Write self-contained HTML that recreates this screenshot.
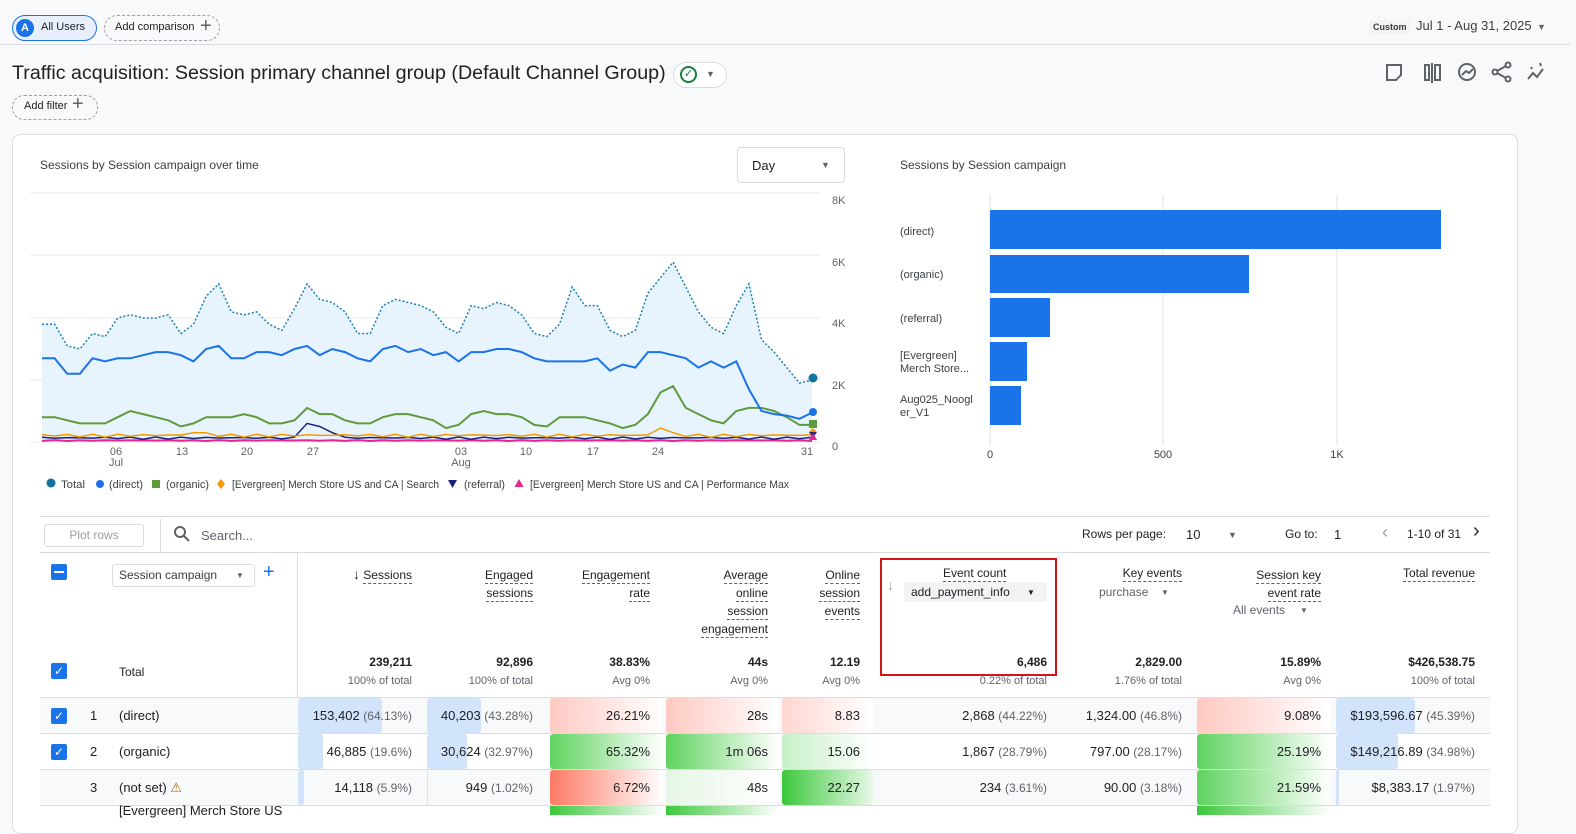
<!DOCTYPE html>
<html><head><meta charset="utf-8"><style>
*{box-sizing:border-box;margin:0;padding:0}
body{width:1576px;height:815px;overflow:hidden;background:#f8f9fa;font-family:"Liberation Sans",Arial,sans-serif;color:#202124;position:relative;font-size:12px}
.a{position:absolute;white-space:nowrap}
.r{text-align:right}
.dl{border-bottom:1px dashed #5f6368;display:inline-block;line-height:15px}
.sub{color:#5f6368;font-size:11px}
.b{font-weight:bold}
</style></head><body>
<div class="a" style="left:12px;top:15px;width:85px;height:26px;border:1px solid #1a73e8;border-radius:13px;background:#e8f0fe"></div>
<div class="a" style="left:16px;top:19px;width:18px;height:18px;border-radius:50%;background:#1a73e8;color:#fff;font-size:11px;text-align:center;line-height:18px;font-weight:bold">A</div>
<div class="a" style="left:41px;top:21px;font-size:11px">All Users</div>
<div class="a" style="left:104px;top:15px;width:116px;height:26px;border:1px dashed #9aa0a6;border-radius:13px"></div>
<div class="a" style="left:115px;top:21px;font-size:11px">Add comparison</div>
<div class="a" style="left:200px;top:15px;font-size:20px;color:#5f6368;font-weight:300">+</div>
<div class="a" style="left:0;top:44px;width:1570px;height:1px;background:#dadce0"></div>
<div class="a" style="left:1370px;top:20px;font-size:9px;background:#f1f3f4;padding:2px 3px;font-weight:bold;color:#3c4043">Custom</div>
<div class="a" style="left:1416px;top:18px;font-size:13px;color:#3c4043">Jul 1 - Aug 31, 2025</div>
<div class="a" style="left:1537px;top:22px;font-size:9px;color:#5f6368">▼</div>
<div class="a" style="left:12px;top:63px;font-size:19px;transform:scaleX(1.035);transform-origin:left">Traffic acquisition: Session primary channel group (Default Channel Group)</div>
<div class="a" style="left:673px;top:62px;width:54px;height:26px;border:1px solid #dadce0;border-radius:13px;background:#fff"></div>
<div class="a" style="left:680px;top:66px;width:17px;height:17px;border:2px solid #188038;border-radius:50%;color:#188038;font-size:11px;text-align:center;line-height:13px">✓</div>
<div class="a" style="left:706px;top:69px;font-size:9px;color:#5f6368">▼</div>
<div class="a" style="left:12px;top:95px;width:86px;height:25px;border:1px dashed #9aa0a6;border-radius:12px"></div>
<div class="a" style="left:24px;top:100px;font-size:11px">Add filter</div>
<div class="a" style="left:72px;top:93px;font-size:20px;color:#5f6368">+</div>
<svg class="a" style="left:1380px;top:58px" width="170" height="30" fill="none" stroke="#5f6368" stroke-width="2">
<path d="M7 7h14v10l-5 5H7z"/><rect x="45" y="7" width="4" height="15"/><path d="M52 5v20"/><rect x="55" y="7" width="5" height="15"/>
<circle cx="87" cy="14" r="8"/><path d="M82 17l4-4 3 2 4-4"/><circle cx="115" cy="14" r="2.5"/><circle cx="128" cy="7" r="2.5"/><circle cx="128" cy="21" r="2.5"/><path d="M117 13l9-5M117 15l9 5"/>
<path d="M148 21l5-6 4 4 6-8M160 5l1 3M151 9l1 2"/></svg>
<div class="a" style="left:12px;top:134px;width:1506px;height:700px;background:#fff;border:1px solid #dadce0;border-radius:8px"></div>
<div class="a" style="left:40px;top:158px;font-size:12px;color:#3c4043">Sessions by Session campaign over time</div>
<div class="a" style="left:737px;top:147px;width:108px;height:36px;border:1px solid #dadce0;border-radius:4px"></div>
<div class="a" style="left:752px;top:158px;font-size:13px">Day</div>
<div class="a" style="left:821px;top:160px;font-size:9px;color:#5f6368">▼</div>
<div class="a" style="left:900px;top:158px;font-size:12px;color:#3c4043">Sessions by Session campaign</div>
<svg id="ch" class="a" style="left:0;top:0" width="880" height="500"></svg>
<svg class="a" style="left:880px;top:180px" width="640" height="290">
<g stroke="#e0e0e0"><path d="M110 15V265M283 15V265M457 15V265"/></g>
<g fill="#1a73e8"><rect x="110" y="30" width="451" height="39"/><rect x="110" y="75" width="259" height="38"/><rect x="110" y="118" width="60" height="39"/><rect x="110" y="162" width="37" height="39"/><rect x="110" y="206" width="31" height="39"/></g>
<g font-size="11" fill="#3c4043" font-family="Liberation Sans"><text x="110" y="278" text-anchor="middle">0</text><text x="283" y="278" text-anchor="middle">500</text><text x="457" y="278" text-anchor="middle">1K</text>
<text x="20" y="55">(direct)</text><text x="20" y="98">(organic)</text><text x="20" y="142">(referral)</text><text x="20" y="179">[Evergreen]</text><text x="20" y="192">Merch Store...</text><text x="20" y="223">Aug025_Noogl</text><text x="20" y="236">er_V1</text></g></svg>
<div class="a" style="left:40px;top:516px;width:1450px;height:1px;background:#dadce0"></div>
<div class="a" style="left:44px;top:524px;width:100px;height:23px;border:1px solid #dadce0;border-radius:3px;color:#9aa0a6;text-align:center;line-height:21px">Plot rows</div>
<div class="a" style="left:160px;top:519px;width:1px;height:33px;background:#dadce0"></div>
<svg class="a" style="left:173px;top:525px" width="18" height="18" fill="none" stroke="#5f6368" stroke-width="2"><circle cx="7" cy="7" r="5"/><path d="M11 11l5 5"/></svg>
<div class="a" style="left:201px;top:528px;color:#5f6368;font-size:13px">Search...</div>
<div class="a" style="left:1082px;top:527px">Rows per page:</div>
<div class="a" style="left:1186px;top:527px;font-size:13px">10</div>
<div class="a" style="left:1228px;top:530px;font-size:9px;color:#5f6368">▼</div>
<div class="a" style="left:1285px;top:527px">Go to:</div>
<div class="a" style="left:1334px;top:527px;font-size:13px">1</div>
<div class="a" style="left:1382px;top:522px;font-size:18px;color:#9aa0a6">‹</div>
<div class="a" style="left:1407px;top:527px">1-10 of 31</div>
<div class="a" style="left:1473px;top:520px;font-size:20px">›</div>
<div class="a" style="left:40px;top:552px;width:1450px;height:1px;background:#dadce0"></div>
<div class="a" style="left:297px;top:552px;width:1px;height:263px;background:#dadce0"></div>
<div class="a" style="left:51px;top:564px;width:16px;height:16px;background:#1a73e8;border-radius:2px"><div style="margin:7px 3px;height:2px;background:#fff"></div></div>
<div class="a" style="left:112px;top:564px;width:143px;height:23px;border:1px solid #dadce0;border-radius:3px"></div>
<div class="a" style="left:119px;top:568px;color:#3c4043;font-size:12px">Session campaign</div>
<div class="a" style="left:236px;top:571px;font-size:8px;color:#5f6368">▼</div>
<div class="a" style="left:263px;top:561px;font-size:20px;color:#1a73e8">+</div>
<div class="a r" style="right:1164px;top:566px"><span style="font-size:14px">↓</span> <span class="dl">Sessions</span></div>
<div class="a r" style="right:1043px;top:566px;line-height:18px"><span class="dl">Engaged</span><br><span class="dl">sessions</span></div>
<div class="a r" style="right:926px;top:566px;line-height:18px"><span class="dl">Engagement</span><br><span class="dl">rate</span></div>
<div class="a r" style="right:808px;top:566px;line-height:18px"><span class="dl">Average</span><br><span class="dl">online</span><br><span class="dl">session</span><br><span class="dl">engagement</span></div>
<div class="a r" style="right:716px;top:566px;line-height:18px"><span class="dl">Online</span><br><span class="dl">session</span><br><span class="dl">events</span></div>
<div class="a" style="left:887px;top:577px;color:#9aa0a6;font-size:14px">↓</div>
<div class="a" style="left:943px;top:566px"><span class="dl">Event count</span></div>
<div class="a" style="left:904px;top:582px;width:143px;height:20px;background:#f1f3f4;border-radius:3px"></div>
<div class="a" style="left:911px;top:585px;font-size:12px">add_payment_info</div>
<div class="a" style="left:1027px;top:588px;font-size:8px">▼</div>
<div class="a" style="left:880px;top:558px;width:177px;height:118px;border:2px solid #d0161c"></div>
<div class="a r" style="right:394px;top:566px"><span class="dl">Key events</span></div>
<div class="a" style="left:1099px;top:585px;color:#5f6368">purchase</div>
<div class="a" style="left:1161px;top:588px;font-size:8px;color:#5f6368">▼</div>
<div class="a r" style="right:255px;top:566px;line-height:18px"><span class="dl">Session key</span><br><span class="dl">event rate</span></div>
<div class="a" style="left:1233px;top:603px;color:#5f6368">All events</div>
<div class="a" style="left:1300px;top:606px;font-size:8px;color:#5f6368">▼</div>
<div class="a r" style="right:101px;top:566px"><span class="dl">Total revenue</span></div>
<div class="a" style="left:51px;top:663px;width:16px;height:16px;background:#1a73e8;border-radius:2px;color:#fff;font-size:12px;text-align:center;line-height:16px">✓</div>
<div class="a" style="left:119px;top:665px">Total</div>
<div id="tot"></div>
<div class="a" style="left:40px;top:697px;width:1450px;height:1px;background:#dadce0"></div>
<div id="rows"></div>
<script>
var cols=[1164,1043,926,808,716,529,394,255,101];
var t1=["239,211","92,896","38.83%","44s","12.19","6,486","2,829.00","15.89%","$426,538.75"];
var t2=["100% of total","100% of total","Avg 0%","Avg 0%","Avg 0%","0.22% of total","1.76% of total","Avg 0%","100% of total"];
var h="";
for(var i=0;i<9;i++){h+='<div class="a r b" style="right:'+cols[i]+'px;top:655px">'+t1[i]+'</div><div class="a r sub" style="right:'+cols[i]+'px;top:675px">'+t2[i]+'</div>';}
document.getElementById('tot').outerHTML=h;
var S=function(t){return " <span class=sub style='font-size:12px'>"+t+"</span>"};
var rows=[
{y:698,bg:"#f8f9fa",cb:1,n:"1",name:"(direct)",v:["153,402"+S("(64.13%)"),"40,203"+S("(43.28%)"),"26.21%","28s","8.83","2,868"+S("(44.22%)"),"1,324.00"+S("(46.8%)"),"9.08%","$193,596.67"+S("(45.39%)")],
 bars:[[298,84],[427,54],null,null,null,null,null,null,[1336,79]],heat:[null,null,"r","r","r2",null,null,"r",null]},
{y:734,bg:"#fff",cb:1,n:"2",name:"(organic)",v:["46,885"+S("(19.6%)"),"30,624"+S("(32.97%)"),"65.32%","1m 06s","15.06","1,867"+S("(28.79%)"),"797.00"+S("(28.17%)"),"25.19%","$149,216.89"+S("(34.98%)")],
 bars:[[298,25],[427,40],null,null,null,null,null,null,[1336,62]],heat:[null,null,"g","g","g2",null,null,"g",null]},
{y:770,bg:"#f8f9fa",cb:0,n:"3",name:"(not set) <span style='color:#b06000'>⚠</span>",v:["14,118"+S("(5.9%)"),"949"+S("(1.02%)"),"6.72%","48s","22.27","234"+S("(3.61%)"),"90.00"+S("(3.18%)"),"21.59%","$8,383.17"+S("(1.97%)")],
 bars:[[298,6],[427,1],null,null,null,null,null,null,[1336,3]],heat:[null,null,"R","w","G",null,null,"g",null]}
];
var cl=[[298,425],[426,540],[550,663],[666,778],[782,873],[876,1058],[1058,1196],[1197,1331],[1335,1490]];
var H={r:"linear-gradient(90deg,#ffc9c2,#fff)",r2:"linear-gradient(90deg,#ffd6d0,#fff)",g:"linear-gradient(90deg,#5fd35f,#fff)",g2:"linear-gradient(90deg,#c8f0c8,#fff)",R:"linear-gradient(90deg,#ff7a65,#fff)",G:"linear-gradient(90deg,#3cc83c,#e8f8e8)",w:"linear-gradient(90deg,#e6f6e6,#fff)"};
h="";
rows.forEach(function(r){
 h+='<div class="a" style="left:40px;top:'+r.y+'px;width:1450px;height:35px;background:'+r.bg+'"></div>';
 for(var i=0;i<9;i++){
  if(r.heat[i])h+='<div class="a" style="left:'+cl[i][0]+'px;top:'+r.y+'px;width:'+(cl[i][1]-cl[i][0])+'px;height:35px;background:'+H[r.heat[i]]+';border-radius:3px"></div>';
  if(r.bars[i])h+='<div class="a" style="left:'+r.bars[i][0]+'px;top:'+r.y+'px;width:'+r.bars[i][1]+'px;height:35px;background:#d2e3fc;border-radius:3px"></div>';
 }
 if(r.cb)h+='<div class="a" style="left:51px;top:'+(r.y+10)+'px;width:16px;height:16px;background:#1a73e8;border-radius:2px;color:#fff;font-size:12px;text-align:center;line-height:16px">✓</div>';
 h+='<div class="a" style="left:90px;top:'+(r.y+10)+'px;font-size:13px">'+r.n+'</div><div class="a" style="left:119px;top:'+(r.y+10)+'px;font-size:13px">'+r.name+'</div>';
 for(var i=0;i<9;i++)h+='<div class="a r" style="right:'+cols[i]+'px;top:'+(r.y+10)+'px;font-size:13px">'+r.v[i]+'</div>';
 h+='<div class="a" style="left:40px;top:'+(r.y+35)+'px;width:1450px;height:1px;background:#dadce0"></div>';
});
h+='<div class="a" style="left:40px;top:806px;width:1450px;height:9px;background:#fff"></div><div class="a" style="left:550px;top:806px;width:113px;height:9px;background:linear-gradient(90deg,#3cc83c,#fff)"></div><div class="a" style="left:666px;top:806px;width:112px;height:9px;background:linear-gradient(90deg,#3cc83c,#fff)"></div><div class="a" style="left:1197px;top:806px;width:134px;height:9px;background:linear-gradient(90deg,#3cc83c,#fff)"></div><div class="a" style="left:119px;top:803px;font-size:13px">[Evergreen] Merch Store US</div>';
document.getElementById('rows').outerHTML=h;
var tot=[3.8,3.8,3.1,3.0,3.5,3.4,4.0,4.1,4.0,4.0,4.1,3.5,3.8,4.7,5.1,4.2,4.1,4.2,3.8,3.6,4.3,5.1,4.6,4.5,4.2,3.5,3.5,4.4,4.6,4.5,4.4,4.2,3.7,3.5,4.4,4.3,4.5,4.4,4.1,3.5,3.4,3.8,5.0,4.4,4.4,3.6,3.4,3.6,4.8,5.3,5.8,5.0,4.2,3.7,3.5,4.4,5.1,3.3,2.9,2.4,1.9,2.0];
var dir=[2.7,2.7,2.2,2.2,2.7,2.6,2.7,2.7,2.8,2.9,2.9,2.8,2.6,3.0,3.1,2.7,2.7,2.9,2.9,2.8,3.0,3.1,2.8,3.0,2.9,2.7,2.6,3.0,3.1,2.9,3.0,2.8,2.9,2.6,2.9,2.9,3.0,3.0,2.9,2.7,2.6,2.6,2.6,2.6,2.7,2.3,2.5,2.4,2.9,2.9,2.8,2.7,2.4,2.6,2.4,2.6,1.7,1.0,0.9,0.85,0.75,0.95];
var org=[0.8,0.8,0.7,0.6,0.6,0.6,0.8,1.0,0.9,0.8,0.7,0.5,0.6,0.8,0.8,0.8,0.9,0.8,0.6,0.6,0.7,1.1,0.9,0.9,0.7,0.6,0.6,0.8,0.9,0.9,0.8,0.7,0.45,0.55,0.9,1.0,0.9,0.9,0.8,0.55,0.5,0.8,0.8,0.8,0.7,0.6,0.45,0.55,0.9,1.6,1.8,1.1,0.9,0.7,0.6,1.0,1.1,1.1,1.0,0.8,0.55,0.55];
var n=tot.length,x0=42,x1=812;
function X(i){return x0+(x1-x0)*i/(n-1)}function Y(v){return 442-v*31}
function P(a){return a.map(function(v,i){return (i?"L":"M")+X(i).toFixed(1)+" "+Y(v).toFixed(1)}).join("")}
function gen(base,amp,seed,spikes){var a=[];for(var i=0;i<n;i++){var v=base+amp*Math.abs(Math.sin(i*1.7+seed));if(spikes[i]!=null)v=spikes[i];a.push(v)}return a}
var srch=gen(0.15,0.1,1,{12:0.3,13:0.3,49:0.45,50:0.3}),ref=gen(0.08,0.08,2,{21:0.6,22:0.5,23:0.3}),pm=gen(0.03,0.03,3,{});
var s='';
[193,255,318,380,442].forEach(function(y){s+='<line x1="30" x2="820" y1="'+y+'" y2="'+y+'" stroke="#e8eaed"/>'});
s+='<path d="'+P(tot)+'L'+x1+' 442L'+x0+' 442Z" fill="#e8f4fd"/>';
s+='<path d="'+P(tot)+'" fill="none" stroke="#1a7fb0" stroke-width="1.5" stroke-dasharray="2,2"/>';
s+='<path d="'+P(pm)+'" fill="none" stroke="#e52592" stroke-width="2"/>';
s+='<path d="'+P(ref)+'" fill="none" stroke="#1a237e" stroke-width="1.5"/>';
s+='<path d="'+P(srch)+'" fill="none" stroke="#f29900" stroke-width="1.5"/>';
s+='<path d="'+P(org)+'" fill="none" stroke="#5e9b3a" stroke-width="2"/>';
s+='<path d="'+P(dir)+'" fill="none" stroke="#1a73e8" stroke-width="2"/>';
s+='<circle cx="813" cy="378" r="4.5" fill="#12739f"/><circle cx="813" cy="412" r="4" fill="#1a73e8"/><rect x="809" y="420" width="8" height="8" fill="#5e9b3a"/><path d="M813 428l4 4-4 4-4-4z" fill="#f29900"/><path d="M809 432h8l-4 6z" fill="#1a237e"/><path d="M813 433l4 7h-8z" fill="#e52592"/>';
var yl=[["8K",204],["6K",266],["4K",327],["2K",389],["0",450]];
yl.forEach(function(l){s+='<text x="832" y="'+l[1]+'" font-size="11" fill="#5f6368">'+l[0]+'</text>'});
var xl=[["06",116],["13",182],["20",247],["27",313],["03",461],["10",526],["17",593],["24",658],["31",807]];
xl.forEach(function(l){s+='<text x="'+l[1]+'" y="455" text-anchor="middle" font-size="11" fill="#5f6368">'+l[0]+'</text>'});
s+='<text x="116" y="466" text-anchor="middle" font-size="11" fill="#5f6368">Jul</text><text x="461" y="466" text-anchor="middle" font-size="11" fill="#5f6368">Aug</text>';
s+='<g font-size="11" fill="#3c4043"><circle cx="51" cy="483" r="4.5" fill="#12739f"/><text x="61" y="488" textLength="24" lengthAdjust="spacingAndGlyphs">Total</text><circle cx="100" cy="484" r="4" fill="#1a73e8"/><text x="109" y="488" textLength="34" lengthAdjust="spacingAndGlyphs">(direct)</text><rect x="152" y="480" width="8" height="8" fill="#5e9b3a"/><text x="166" y="488" textLength="43" lengthAdjust="spacingAndGlyphs">(organic)</text><path d="M221 479l4 5-4 5-4-5z" fill="#f29900"/><text x="232" y="488" textLength="207" lengthAdjust="spacingAndGlyphs">[Evergreen] Merch Store US and CA | Search</text><path d="M448 480h9l-4.5 8z" fill="#1a237e"/><text x="464" y="488" textLength="41" lengthAdjust="spacingAndGlyphs">(referral)</text><path d="M519 479l4.5 8h-9z" fill="#e52592"/><text x="530" y="488" textLength="259" lengthAdjust="spacingAndGlyphs">[Evergreen] Merch Store US and CA | Performance Max</text></g>';
document.getElementById('ch').innerHTML=s;
</script>
</body></html>
